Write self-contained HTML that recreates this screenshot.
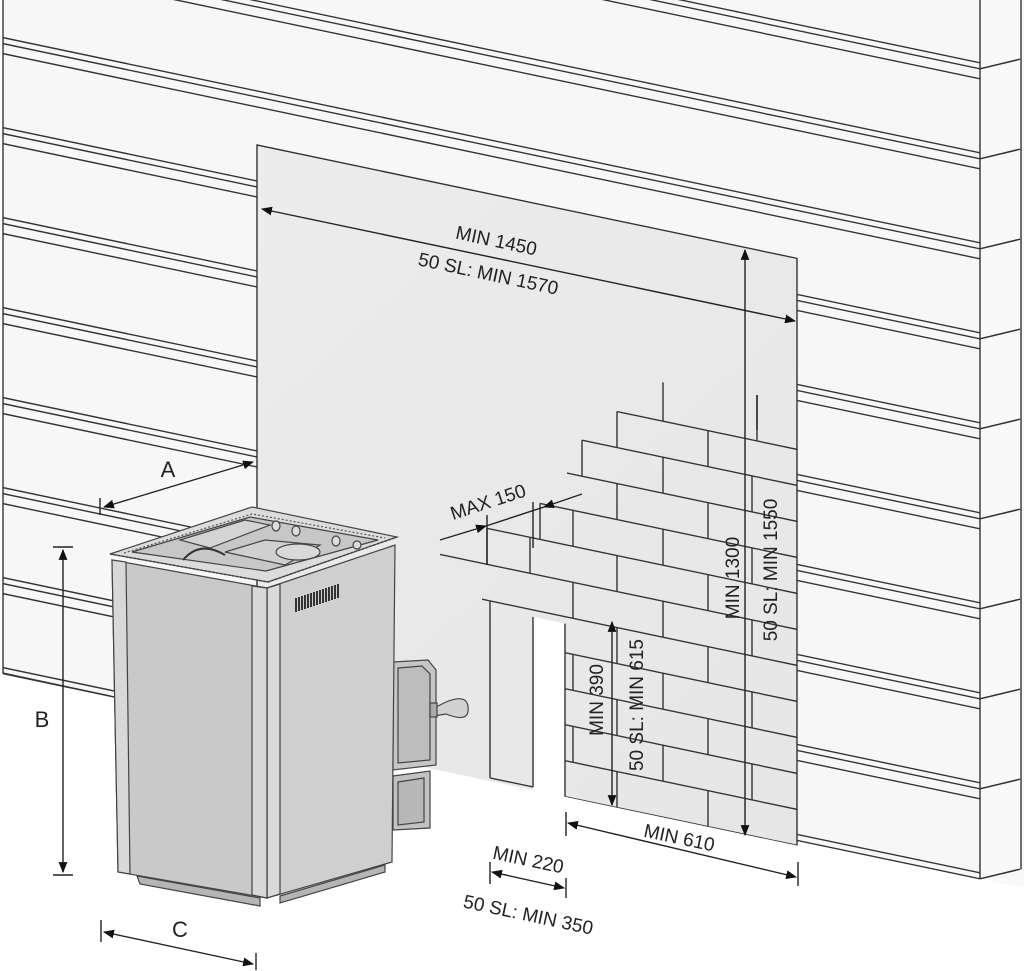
<!DOCTYPE html>
<html><head><meta charset="utf-8"><style>
html,body{margin:0;padding:0;background:#fff;}
svg{display:block;}
text{font-family:"Liberation Sans",sans-serif;fill:#222;}
</style></head><body>
<svg width="1024" height="971" viewBox="0 0 1024 971" xmlns="http://www.w3.org/2000/svg">
<defs>
<marker id="ar" viewBox="0 0 10 10" refX="9" refY="5" markerWidth="11" markerHeight="11" orient="auto-start-reverse" markerUnits="userSpaceOnUse"><path d="M0,1 L10,5 L0,9 Z" fill="#111"/></marker>
<linearGradient id="pg" x1="0" y1="0" x2="1" y2="1"><stop offset="0" stop-color="#ececec"/><stop offset="1" stop-color="#e6e6e6"/></linearGradient>
</defs>
<rect width="1024" height="971" fill="#fff"/>
<g transform="matrix(1,0.21,0,1,0,0)" stroke="#333" stroke-width="1.4" fill="none">
  <rect x="3" y="-300" width="977" height="973" fill="#f7f7f7" stroke="none"/>
  <rect x="980" y="-300" width="44" height="973" fill="#f9f9f9" stroke="none"/>
  <g>
    <line x1="0" y1="-143" x2="980" y2="-143"/><line x1="0" y1="-137" x2="980" y2="-137"/><line x1="0" y1="-127" x2="980" y2="-127"/>
    <line x1="0" y1="-53" x2="980" y2="-53"/><line x1="0" y1="-47" x2="980" y2="-47"/><line x1="0" y1="-37" x2="980" y2="-37"/>
    <line x1="3" y1="37" x2="980" y2="37"/><line x1="3" y1="43" x2="980" y2="43"/><line x1="3" y1="53" x2="980" y2="53"/>
  </g>
  <g>
    <line x1="3" y1="127" x2="980" y2="127"/><line x1="3" y1="133" x2="980" y2="133"/><line x1="3" y1="143" x2="980" y2="143"/>
    <line x1="3" y1="217" x2="980" y2="217"/><line x1="3" y1="223" x2="980" y2="223"/><line x1="3" y1="233" x2="980" y2="233"/>
    <line x1="3" y1="307" x2="980" y2="307"/><line x1="3" y1="313" x2="980" y2="313"/><line x1="3" y1="323" x2="980" y2="323"/>
    <line x1="3" y1="397" x2="980" y2="397"/><line x1="3" y1="403" x2="980" y2="403"/><line x1="3" y1="413" x2="980" y2="413"/>
    <line x1="3" y1="487" x2="980" y2="487"/><line x1="3" y1="493" x2="980" y2="493"/><line x1="3" y1="503" x2="980" y2="503"/>
    <line x1="3" y1="577" x2="980" y2="577"/><line x1="3" y1="583" x2="980" y2="583"/><line x1="3" y1="593" x2="980" y2="593"/>
    <line x1="3" y1="667" x2="980" y2="667"/><line x1="3" y1="673" x2="980" y2="673"/>
  </g>
  <g>
    <path d="M980,-137 L1020,-155"/><path d="M980,-47 L1020,-65"/><path d="M980,43 L1020,25"/><path d="M980,133 L1020,115"/><path d="M980,223 L1020,205"/><path d="M980,313 L1020,295"/><path d="M980,403 L1020,385"/><path d="M980,493 L1020,475"/><path d="M980,583 L1020,565"/><path d="M980,673 L1020,655"/>
    <line x1="1021" y1="-300" x2="1021" y2="655"/>
  </g>
  <line x1="980" y1="-300" x2="980" y2="673"/>
  <line x1="3" y1="-10" x2="3" y2="673"/>
  <rect x="257" y="91" width="540" height="590" fill="url(#pg)"/>
  <rect x="533" y="505" width="32" height="178" fill="#fff" stroke="none"/>
  <line x1="533" y1="505" x2="533" y2="675"/>
  <line x1="565" y1="505" x2="565" y2="680"/>
  <line x1="490" y1="498" x2="490" y2="675"/>
  <line x1="490" y1="675" x2="533" y2="675"/>
  <line x1="617" y1="282" x2="797" y2="282"/>
  <line x1="582" y1="318" x2="797" y2="318"/>
  <line x1="567" y1="354" x2="797" y2="354"/>
  <line x1="540" y1="390" x2="797" y2="390"/>
  <line x1="487" y1="426" x2="797" y2="426"/>
  <line x1="440" y1="462" x2="797" y2="462"/>
  <line x1="482" y1="498" x2="797" y2="498"/>
  <line x1="565" y1="534" x2="797" y2="534"/>
  <line x1="565" y1="570" x2="797" y2="570"/>
  <line x1="565" y1="606" x2="797" y2="606"/>
  <line x1="565" y1="642" x2="797" y2="642"/>
  <line x1="565" y1="678" x2="797" y2="678"/>
  <line x1="617" y1="282" x2="617" y2="318"/><line x1="708" y1="282" x2="708" y2="318"/>
  <line x1="663" y1="243" x2="663" y2="282"/><line x1="757" y1="236" x2="757" y2="282"/>
  <line x1="663" y1="318" x2="663" y2="354"/><line x1="752" y1="318" x2="752" y2="354"/>
  <line x1="617" y1="354" x2="617" y2="390"/><line x1="708" y1="354" x2="708" y2="390"/>
  <line x1="573" y1="390" x2="573" y2="426"/><line x1="663" y1="390" x2="663" y2="426"/><line x1="752" y1="390" x2="752" y2="426"/>
  <line x1="530" y1="426" x2="530" y2="462"/><line x1="617" y1="426" x2="617" y2="462"/><line x1="708" y1="426" x2="708" y2="462"/>
  <line x1="573" y1="462" x2="573" y2="498"/><line x1="663" y1="462" x2="663" y2="498"/><line x1="752" y1="462" x2="752" y2="498"/>
  <line x1="617" y1="498" x2="617" y2="534"/><line x1="708" y1="498" x2="708" y2="534"/>
  <line x1="573" y1="534" x2="573" y2="570"/><line x1="663" y1="534" x2="663" y2="570"/><line x1="752" y1="534" x2="752" y2="570"/>
  <line x1="617" y1="570" x2="617" y2="606"/><line x1="708" y1="570" x2="708" y2="606"/>
  <line x1="573" y1="606" x2="573" y2="642"/><line x1="663" y1="606" x2="663" y2="642"/><line x1="752" y1="606" x2="752" y2="642"/>
  <line x1="617" y1="642" x2="617" y2="678"/><line x1="708" y1="642" x2="708" y2="678"/>
  <line x1="582" y1="318" x2="582" y2="354"/><line x1="540" y1="390" x2="540" y2="426"/><line x1="487" y1="426" x2="487" y2="462"/>
</g>
<polygon points="0,678 980,884 980,971 0,971" fill="#fff"/>
<line x1="3" y1="673" x2="110" y2="696" stroke="#333" stroke-width="1.3"/>

<g stroke="#222" stroke-width="1.4" fill="none">
  <line x1="262" y1="209" x2="795" y2="321" marker-start="url(#ar)" marker-end="url(#ar)"/>
  <line x1="745" y1="250" x2="745" y2="835" marker-start="url(#ar)" marker-end="url(#ar)"/>
  <line x1="757" y1="395" x2="757" y2="430"/>
  <line x1="612" y1="622" x2="612" y2="805" marker-start="url(#ar)" marker-end="url(#ar)"/>
  <line x1="568" y1="823" x2="796" y2="877" marker-start="url(#ar)" marker-end="url(#ar)"/>
  <line x1="566" y1="812" x2="566" y2="836"/><line x1="798" y1="862" x2="798" y2="886"/>
  <line x1="492" y1="872" x2="564" y2="888" marker-start="url(#ar)" marker-end="url(#ar)"/>
  <line x1="490" y1="862" x2="490" y2="884"/><line x1="566" y1="878" x2="566" y2="898"/>
  <line x1="440" y1="540" x2="486" y2="526" marker-end="url(#ar)"/>
  <line x1="486" y1="526" x2="544" y2="507"/>
  <line x1="582" y1="494" x2="544" y2="507" marker-end="url(#ar)"/>
  <line x1="487" y1="515" x2="487" y2="565"/><line x1="533" y1="502" x2="533" y2="548"/>
  <line x1="104" y1="507" x2="253" y2="462" marker-start="url(#ar)" marker-end="url(#ar)"/>
  <line x1="100" y1="498" x2="100" y2="515"/>
  <line x1="63" y1="550" x2="63" y2="872" marker-start="url(#ar)" marker-end="url(#ar)"/>
  <line x1="53" y1="547" x2="73" y2="547"/><line x1="53" y1="875" x2="73" y2="875"/>
  <line x1="104" y1="932" x2="253" y2="964" marker-start="url(#ar)" marker-end="url(#ar)"/>
  <line x1="101" y1="920" x2="101" y2="942"/><line x1="256" y1="953" x2="256" y2="970"/>
</g>
<g font-size="19">
  <text x="495" y="247" text-anchor="middle" transform="rotate(12 495 247)">MIN 1450</text>
  <text x="487" y="280" text-anchor="middle" transform="rotate(12 487 280)">50 SL: MIN 1570</text>
  <text x="739" y="578" text-anchor="middle" transform="rotate(-90 739 578)">MIN 1300</text>
  <text x="777" y="570" text-anchor="middle" transform="rotate(-90 777 570)">50 SL: MIN 1550</text>
  <text x="603" y="700" text-anchor="middle" transform="rotate(-90 603 700)">MIN 390</text>
  <text x="643" y="705" text-anchor="middle" transform="rotate(-90 643 705)">50 SL: MIN 615</text>
  <text x="678" y="844" text-anchor="middle" transform="rotate(12 678 844)">MIN 610</text>
  <text x="527" y="866" text-anchor="middle" transform="rotate(12 527 866)">MIN 220</text>
  <text x="527" y="921" text-anchor="middle" transform="rotate(12 527 921)">50 SL: MIN 350</text>
  <text x="490" y="508" text-anchor="middle" transform="rotate(-18 490 508)">MAX 150</text>
  <text x="168" y="477" text-anchor="middle" font-size="22">A</text>
  <text x="42" y="727" text-anchor="middle" font-size="22">B</text>
  <text x="180" y="937" text-anchor="middle" font-size="22">C</text>
</g>

<g stroke="#444" stroke-width="1.2">
  <polygon points="393,662 428,660 436,670 436,765 393,770" fill="#c6c6c6"/>
  <polygon points="398,668 422,666 430,674 430,760 398,763" fill="#bdbdbd"/>
  <path d="M434,708 L446,702 Q470,692 468,712 Q466,722 446,714 L434,716 Z" fill="#d2d2d2"/>
  <rect x="430" y="703" width="7" height="14" fill="#aaa"/>
  <polygon points="393,776 430,771 430,828 393,830" fill="#c2c2c2"/>
  <polygon points="398,782 424,778 424,822 398,825" fill="#b8b8b8"/>
  <polygon points="267,588 395,545 392,862 267,898" fill="#cfcfcf"/>
  <polygon points="267,588 280,584 280,894 267,898" fill="#dadada"/>
  <polygon points="112,560 267,588 267,898 118,872" fill="#c9c9c9"/>
  <polygon points="112,560 126,562 130,874 118,872" fill="#d8d8d8"/>
  <polygon points="252,586 267,588 267,898 252,895" fill="#d8d8d8"/>
  <polygon points="137,876 260,898 260,906 140,884" fill="#b5b5b5"/>
  <polygon points="280,896 385,865 385,872 280,903" fill="#b5b5b5"/>
  <polygon points="110,554 252,507 397,537 268,582" fill="#dcdcdc"/>
  <polygon points="132,552 250,517 378,540 266,571" fill="#c7c7c7"/>
  <polygon points="180,540 245,520 270,525 210,548" fill="#d4d4d4"/>
  <polygon points="225,552 265,540 320,545 285,565" fill="#d0d0d0"/>
  <ellipse cx="298" cy="552" rx="22" ry="8" fill="#d9d9d9"/>
  <path d="M183,560 Q200,540 225,555" fill="none" stroke="#333" stroke-width="2"/>
  <ellipse cx="276" cy="526" rx="4" ry="5" fill="#ddd"/><ellipse cx="296" cy="531" rx="4" ry="5" fill="#ddd"/>
  <ellipse cx="336" cy="541" rx="4" ry="5" fill="#ddd"/><ellipse cx="357" cy="545" rx="4" ry="4" fill="#ddd"/>
  <polyline points="110,554 268,582 397,537" fill="none" stroke="#444" stroke-width="1.5" stroke-dasharray="2,2"/>
  <polyline points="124,553 252,514 385,538" fill="none" stroke="#555" stroke-width="1.2" stroke-dasharray="2,2"/>
</g>
<g fill="#333">
  <rect x="295" y="598" width="2" height="14"/><rect x="298" y="597" width="2" height="14"/><rect x="301" y="596" width="2" height="14"/>
  <rect x="304" y="595" width="2" height="14"/><rect x="307" y="594" width="2" height="14"/><rect x="310" y="593" width="2" height="14"/>
  <rect x="313" y="592" width="2" height="14"/><rect x="316" y="591" width="2" height="14"/><rect x="319" y="590" width="2" height="14"/>
  <rect x="322" y="589" width="2" height="14"/><rect x="325" y="588" width="2" height="14"/><rect x="328" y="587" width="2" height="14"/>
  <rect x="331" y="586" width="2" height="14"/><rect x="334" y="585" width="2" height="14"/><rect x="337" y="584" width="2" height="14"/>
</g>
</svg>
</body></html>
